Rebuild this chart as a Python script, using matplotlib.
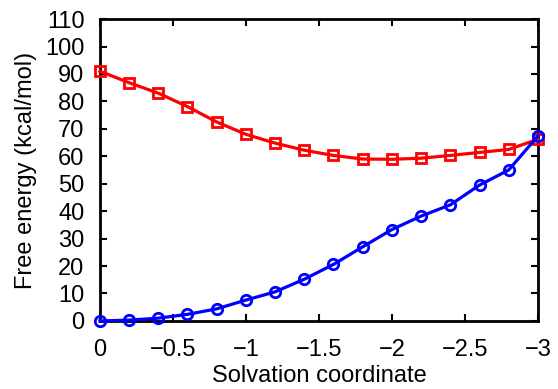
import matplotlib
matplotlib.use("Agg")
from matplotlib import pyplot as plt

plt.rcParams['font.family'] = ['Liberation Sans', 'DejaVu Sans']

coord = [0, -0.2, -0.4, -0.6, -0.8, -1.0, -1.2, -1.4, -1.6, -1.8,
         -2.0, -2.2, -2.4, -2.6, -2.8, -3.0]
red_energy = [91.0, 86.8, 83.0, 78.1, 72.5, 68.0, 64.8, 62.2, 60.3, 59.0,
              58.9, 59.3, 60.3, 61.4, 62.5, 66.2]
blue_energy = [0.0, 0.3, 1.0, 2.4, 4.4, 7.6, 10.6, 15.2, 20.6, 27.0,
               33.3, 38.2, 42.3, 49.5, 55.0, 67.4]
xticks = [0, -0.5, -1, -1.5, -2, -2.5, -3]
yticks = list(range(0, 111, 10))

fig = plt.figure(figsize=(5.58, 3.89), dpi=100)
ax = fig.add_axes([0.179, 0.175, 0.785, 0.776])

ax.plot(coord, red_energy, color='#ff0000', lw=2.3, marker='s', ms=7,
        mfc='none', mec='#ff0000', mew=2, clip_on=False, zorder=3)
ax.plot(coord, blue_energy, color='#0000ff', lw=2.3, marker='o', ms=7.5,
        mfc='none', mec='#0000ff', mew=2, clip_on=False, zorder=4)

ax.set_xlim(0, -3)
ax.set_ylim(0, 110)
ax.set_xticks(xticks)
ax.set_xticklabels(['0', '\u22120.5', '\u22121', '\u22121.5', '\u22122', '\u22122.5', '\u22123'])
ax.set_yticks(yticks)
ax.tick_params(direction='in', top=True, right=True, length=5, width=1.5,
               labelsize=17)
ax.tick_params(axis='x', pad=13)
ax.tick_params(axis='y', pad=11)
for s in ax.spines.values():
    s.set_linewidth(2)

ax.set_xlabel('Solvation coordinate', fontsize=17, labelpad=3)
ax.set_ylabel('Free energy (kcal/mol)', fontsize=17, labelpad=6)

fig.savefig('out.png', dpi=100)
